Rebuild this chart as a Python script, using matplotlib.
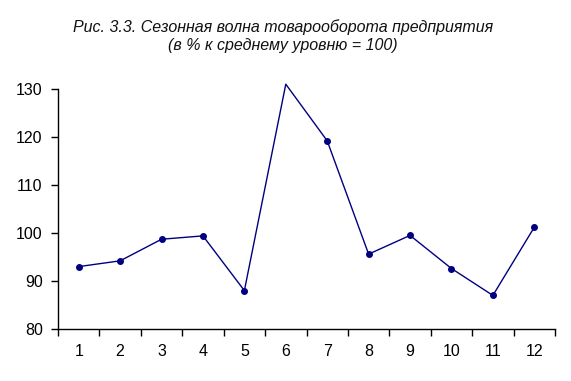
import numpy as np
import matplotlib.pyplot as plt

plt.rcParams['font.family'] = ['Liberation Sans', 'DejaVu Sans']

months = [1, 2, 3, 4, 5, 6, 7, 8, 9, 10, 11, 12]
values = [93.0, 94.2, 98.7, 99.4, 88.0, 131.0, 119.2, 95.6, 99.5, 92.6, 87.0, 101.2]
y_ticks = [80, 90, 100, 110, 120, 130]
title = 'Рис. 3.3. Сезонная волна товарооборота предприятия\n(в % к среднему уровню = 100)'

fig = plt.figure(figsize=(5.71, 3.81), dpi=100)
ax = fig.add_axes([58 / 571, 52 / 381, 497 / 571, 240 / 381])

x = np.array(months)
y = np.array(values)
ax.plot(x, y, color='#000080', linewidth=1.0, clip_on=False)
# точка выше 130 в оригинале без маркера
inside = y <= 130
ax.plot(x[inside], y[inside], linestyle='none', marker='o', markersize=4,
        color='#000080', clip_on=False)

ax.set_xlim(0.5, 12.5)
ax.set_ylim(80, 130)
ax.set_yticks(y_ticks)
ax.set_xticks(np.arange(0.5, 13, 1))
ax.set_xticklabels([])
ax.set_xticks(x, minor=True)
ax.set_xticklabels([str(m) for m in months], minor=True)
ax.tick_params(axis='x', which='major', length=5, width=1, direction='out')
ax.tick_params(axis='x', which='minor', length=0, pad=11, labelsize=11.5)
ax.tick_params(axis='y', length=5, width=1, pad=6, labelsize=11.5)

ax.spines['top'].set_visible(False)
ax.spines['right'].set_visible(False)
for s in ['left', 'bottom']:
    ax.spines[s].set_linewidth(1.0)

fig.text(283 / 571, 1 - 36 / 381, title, ha='center', va='center',
         fontsize=11.5, style='italic', color='#111111', linespacing=1.2)

plt.savefig('out.png', dpi=100)
